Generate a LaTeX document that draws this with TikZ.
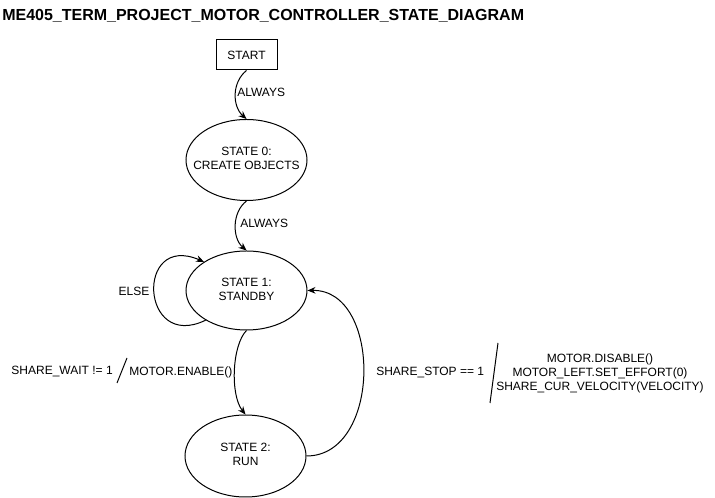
\documentclass[tikz,border=0pt]{standalone}
\usepackage{fontspec}
\setmainfont{Liberation Sans}
\usetikzlibrary{shapes.geometric,arrows.meta}
\newcommand{\zerowide}[1]{\makebox[0pt]{\begin{tabular}{@{}c@{}}#1\end{tabular}}}
\tikzset{
  every node/.style={font=\fontsize{9}{10.5}\selectfont, inner sep=0pt},
  stateell/.style={draw, ellipse, line width=0.75pt, minimum width=90.75pt},
  startbox/.style={draw, rectangle, line width=0.75pt, minimum width=45.75pt, minimum height=22.5pt},
  trans/.style={line width=0.75pt, -{Stealth[length=6pt,width=5pt]}},
  lbl/.style={align=center},
  slash/.style={line width=0.75pt},
}
\begin{document}
\begin{tikzpicture}[x=0.75pt,y=-0.75pt]
\useasboundingbox (0,0) rectangle (715,498);
\node[anchor=base west, font=\bfseries\fontsize{12}{14}\selectfont] (title) at (2,21) {ME405\_TERM\_PROJECT\_MOTOR\_CONTROLLER\_STATE\_DIAGRAM};

\node[startbox] (start) at (246.5,55) {START};
\node[stateell, minimum height=60.75pt] (s0) at (246.5,160) {\zerowide{STATE 0:\\CREATE OBJECTS}};
\node[stateell, minimum height=59.25pt] (s1) at (246.5,290.5) {\zerowide{STATE 1:\\STANDBY}};
\node[stateell, minimum height=61.5pt] (s2) at (245.5,456) {\zerowide{STATE 2:\\RUN}};

% transitions
\draw[trans] (start.south) .. controls (232,82) and (232,106) .. (s0.north);
\draw[trans] (s0.south) .. controls (232,212) and (232,238) .. (s1.north);
\draw[trans] (s1.216) .. controls (140,352) and (135,232) .. (s1.146);
\draw[trans] (s1.south) .. controls (232,345) and (230,395) .. (s2.north);
\draw[trans] (s2.east) .. controls (382,456) and (382,289) .. (s1.east);

% labels
\node[anchor=west] (l0) at (237,92) {ALWAYS};
\node[anchor=west] (l1) at (240,223) {ALWAYS};
\node (lelse) at (134,291) {ELSE};

\node[anchor=east] (wcond) at (113,372) {SHARE\_WAIT != 1};
\coordinate (wa) at (117,383);
\coordinate (wb) at (127,358);
\draw[slash] (wa) -- (wb);
\node[anchor=west] (wact) at (129,372) {MOTOR.ENABLE()};

\node[anchor=west] (scond) at (376,373) {SHARE\_STOP == 1};
\coordinate (sa) at (490,403);
\coordinate (sb) at (498,343);
\draw[slash] (sa) -- (sb);
\node[lbl] (sact) at (600,373) {MOTOR.DISABLE()\\MOTOR\_LEFT.SET\_EFFORT(0)\\SHARE\_CUR\_VELOCITY(VELOCITY)};
\end{tikzpicture}
\end{document}
